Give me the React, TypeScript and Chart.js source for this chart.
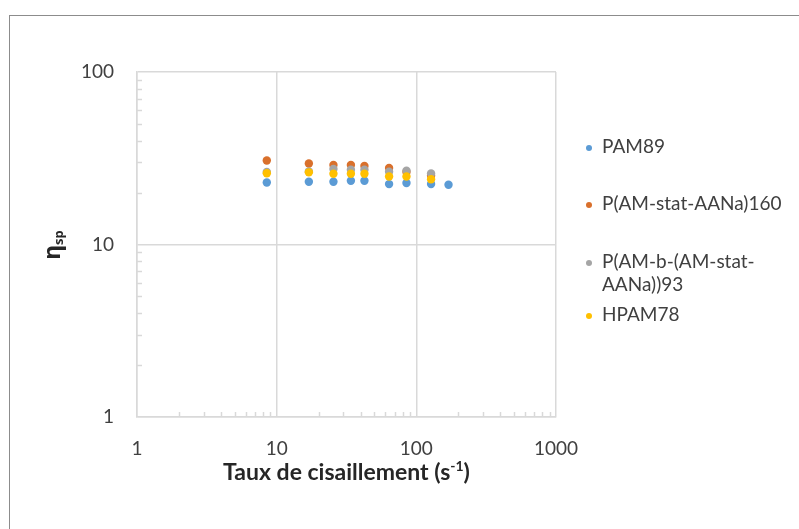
import React, { useEffect, useRef } from "react";
import { Chart, registerables } from "chart.js";

Chart.register(...registerables);

// ---- data ----
const shearRates = [8.5, 17, 25.5, 34, 42.5, 63.8, 85, 127.5, 170];
const seriesNames = ["PAM89", "P(AM-stat-AANa)160", "P(AM-b-(AM-stat-AANa))93", "HPAM78"];
const pam89 = [22.9, 23.1, 23.1, 23.4, 23.4, 22.4, 22.7, 22.4, 22.2];
const pamStat160 = [30.7, 29.5, 28.9, 28.9, 28.5, 27.8, 26.3, 25.0];
const pamBlock93 = [26.3, 26.5, 27.4, 27.1, 27.1, 26.4, 26.8, 25.8];
const hpam78 = [25.9, 26.2, 25.7, 25.7, 25.7, 24.8, 24.8, 23.9];
const seriesValues = [pam89, pamStat160, pamBlock93, hpam78];
const seriesColors = ["#5B9BD5", "#D9702C", "#A5A5A5", "#FFC000"];
const xTickValues = [1, 10, 100, 1000];
const yTickValues = [1, 10, 100];
const xTitleMain = "Taux de cisaillement (s";
const xTitleSup = "-1";
const xTitleEnd = ")";
const yTitleMain = "η";
const yTitleSub = "sp";

const FONT = "Lato";
const GRID = "#d9d9d9";
const TEXT = "#404040";
const legendY = [147, 204, 262, 315];

function minorValues(min: number, max: number) {
  const out: number[] = [];
  for (let d = min; d < max; d *= 10) {
    for (let k = 2; k <= 9; k++) out.push(k * d);
  }
  return out;
}

const minorTicksPlugin = {
  id: "minorTicks",
  beforeDatasetsDraw(chart: any) {
    const { ctx, chartArea } = chart;
    const xs = chart.scales.x;
    const ys = chart.scales.y;
    ctx.save();
    ctx.strokeStyle = GRID;
    ctx.lineWidth = 1.5;
    ctx.beginPath();
    for (const v of minorValues(1, 1000)) {
      const px = Math.round(xs.getPixelForValue(v)) + 0.5;
      ctx.moveTo(px, chartArea.bottom);
      ctx.lineTo(px, chartArea.bottom - 5);
    }
    for (const v of minorValues(1, 100)) {
      const py = Math.round(ys.getPixelForValue(v)) + 0.5;
      ctx.moveTo(chartArea.left, py);
      ctx.lineTo(chartArea.left + 5, py);
    }
    ctx.stroke();
    ctx.restore();
  },
};

function wrapText(ctx: CanvasRenderingContext2D, text: string, maxW: number) {
  const tokens = text.split(/(?<=-)/);
  const lines: string[] = [];
  let cur = "";
  for (const t of tokens) {
    if (cur && ctx.measureText(cur + t).width > maxW) {
      lines.push(cur);
      cur = t;
    } else cur += t;
  }
  if (cur) lines.push(cur);
  return lines;
}

const titlesPlugin = {
  id: "titlesLegend",
  afterDraw(chart: any) {
    const { ctx, chartArea } = chart;
    ctx.save();
    // x title
    ctx.fillStyle = "#262626";
    ctx.textBaseline = "alphabetic";
    ctx.textAlign = "left";
    const mainFont = `bold 23px ${FONT}`;
    const supFont = `bold 14px ${FONT}`;
    ctx.font = mainFont;
    const w1 = ctx.measureText(xTitleMain).width;
    const w3 = ctx.measureText(xTitleEnd).width;
    ctx.font = supFont;
    const w2 = ctx.measureText(xTitleSup).width;
    const cx = (chartArea.left + chartArea.right) / 2;
    let x = cx - (w1 + w2 + w3) / 2;
    const by = 480;
    ctx.font = mainFont;
    ctx.fillText(xTitleMain, x, by);
    x += w1;
    ctx.font = supFont;
    ctx.fillText(xTitleSup, x, by - 9);
    x += w2;
    ctx.font = mainFont;
    ctx.fillText(xTitleEnd, x, by);

    // y title (rotated)
    ctx.save();
    ctx.translate(60, 245);
    ctx.rotate(-Math.PI / 2);
    const gFont = `bold 23px "Noto Sans"`;
    const sFont = `bold 13px "Noto Sans"`;
    ctx.font = gFont;
    const gw = ctx.measureText(yTitleMain).width;
    ctx.font = sFont;
    const sw = ctx.measureText(yTitleSub).width;
    let tx = -(gw + sw) / 2;
    ctx.font = gFont;
    ctx.fillText(yTitleMain, tx, 0);
    tx += gw;
    ctx.font = sFont;
    ctx.fillText(yTitleSub, tx, 3);
    ctx.restore();

    // legend
    ctx.font = `19px ${FONT}`;
    ctx.textBaseline = "middle";
    seriesNames.forEach((name, i) => {
      const y0 = legendY[i];
      ctx.beginPath();
      ctx.fillStyle = seriesColors[i];
      ctx.arc(589, y0 + 1, 3, 0, Math.PI * 2);
      ctx.fill();
      ctx.fillStyle = TEXT;
      const lines = wrapText(ctx, name, 185);
      lines.forEach((ln, j) => ctx.fillText(ln, 602, y0 + j * 23));
    });
    ctx.restore();
  },
};

export default function App() {
  const ref = useRef<HTMLCanvasElement>(null);
  useEffect(() => {
    if (!ref.current) return;
    const chart = new Chart(ref.current, {
      type: "scatter",
      data: {
        datasets: seriesNames.map((name, i) => ({
          label: name,
          data: seriesValues[i].map((v, j) => ({ x: shearRates[j], y: v })),
          backgroundColor: seriesColors[i],
          borderColor: seriesColors[i],
          borderWidth: 0,
          pointRadius: 4.2,
          pointHoverRadius: 4.2,
          order: seriesNames.length - 1 - i,
        })),
      },
      options: {
        responsive: false,
        animation: false,
        layout: { padding: { left: 0, top: 72, right: 243, bottom: 52 } },
        plugins: { legend: { display: false }, tooltip: { enabled: false } },
        scales: {
          x: {
            type: "logarithmic",
            min: 1,
            max: 1000,
            afterBuildTicks: (s: any) => {
              s.ticks = xTickValues.map((v) => ({ value: v }));
            },
            afterFit: (s: any) => {
              s.height = 60;
            },
            grid: { color: GRID, lineWidth: 1.5, drawTicks: false },
            border: { color: GRID, width: 1.5 },
            ticks: {
              autoSkip: false,
              maxRotation: 0,
              padding: 20,
              color: TEXT,
              font: { family: FONT, size: 19 },
              callback: (v: any) => String(v),
            },
          },
          y: {
            type: "logarithmic",
            min: 1,
            max: 100,
            afterBuildTicks: (s: any) => {
              s.ticks = yTickValues.map((v) => ({ value: v }));
            },
            afterFit: (s: any) => {
              s.width = 137;
            },
            grid: { color: GRID, lineWidth: 1.5, drawTicks: false },
            border: { color: GRID, width: 1.5 },
            ticks: {
              autoSkip: false,
              padding: 23,
              color: TEXT,
              font: { family: FONT, size: 19 },
              callback: (v: any) => String(v),
            },
          },
        },
      } as any,
      plugins: [minorTicksPlugin, titlesPlugin],
    });
    return () => chart.destroy();
  }, []);

  return (
    <div style={{ position: "fixed", left: 0, top: 0, width: 799, height: 529, background: "#fff", overflow: "hidden" }}>
      <div
        style={{
          position: "absolute",
          left: 9,
          top: 15,
          width: 900,
          height: 700,
          borderLeft: "1px solid #8c8c8c",
          borderTop: "1px solid #8c8c8c",
        }}
      />
      <canvas ref={ref} width={799} height={529} style={{ position: "absolute", left: 0, top: 0, display: "block" }} />
    </div>
  );
}
